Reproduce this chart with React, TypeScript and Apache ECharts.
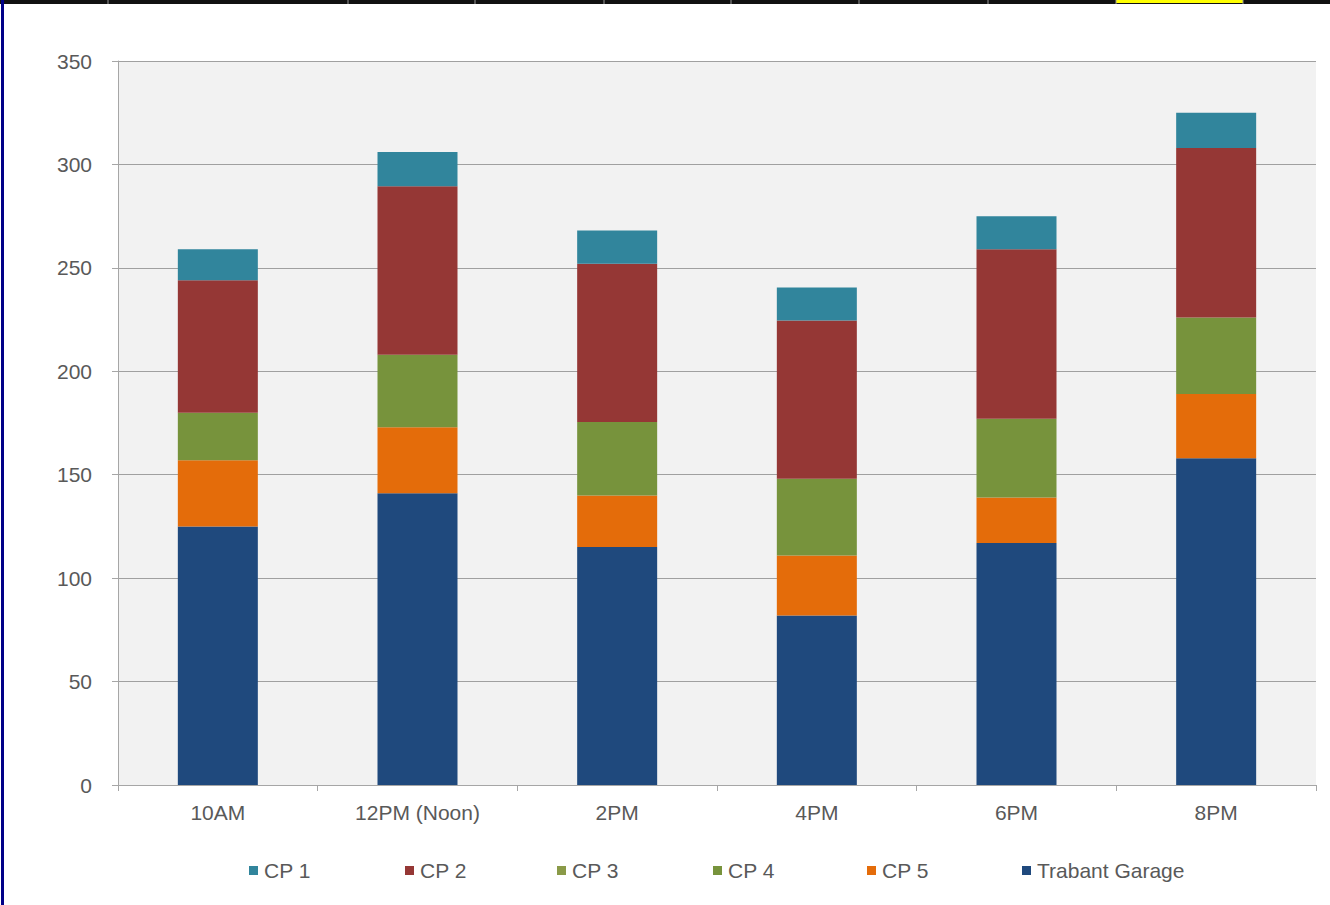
import React, { useEffect, useRef } from "react";
import * as echarts from "echarts";

const categories = ["10AM", "12PM (Noon)", "2PM", "4PM", "6PM", "8PM"];
const trabantGarage = [125, 141, 115, 82, 117, 158];
const cp5 = [32, 32, 25, 29, 22, 31];
const cp4 = [23, 35, 35.5, 37, 38, 37];
const cp3 = [0, 0, 0, 0, 0, 0];
const cp2 = [64, 81.5, 76.5, 76.5, 82, 82];
const cp1 = [15, 16.5, 16, 16, 16, 17];
const legendOrder = ["CP 1", "CP 2", "CP 3", "CP 4", "CP 5", "Trabant Garage"];
const legendLefts = [249, 405, 557, 713, 867, 1022];
const frameCellEdges = [108, 348, 475, 604, 731, 859, 988, 1116, 1243];

const FONT = "'Liberation Sans', Arial, sans-serif";

export default function App() {
  const ref = useRef<HTMLDivElement>(null);
  useEffect(() => {
    if (!ref.current) return;
    const chart = echarts.init(ref.current, null, { renderer: "svg" });
    const mk = (name: string, data: number[], color: string) => ({
      name,
      type: "bar",
      stack: "total",
      data,
      barWidth: 80,
      itemStyle: { color },
    });
    const graphics: any[] = [
      { type: "rect", shape: { x: 0, y: 0, width: 1330, height: 4 }, style: { fill: "#111" }, z: 10 },
      { type: "rect", shape: { x: 1116, y: 0, width: 127, height: 3 }, style: { fill: "#ffff00" }, z: 11 },
      { type: "rect", shape: { x: 1, y: 0, width: 3, height: 905 }, style: { fill: "#000088" }, z: 10 },
    ];
    frameCellEdges.forEach((x) => {
      graphics.push({
        type: "line",
        shape: { x1: x, y1: 0, x2: x, y2: 4 },
        style: { stroke: "#999", lineWidth: 1 },
        z: 12,
      });
    });
    const legends = legendOrder.map((name, i) => ({
      data: [name],
      left: legendLefts[i],
      top: 860,
      padding: 0,
      icon: "rect",
      itemWidth: 9,
      itemHeight: 9,
      itemGap: 5,
      textStyle: { fontSize: 21, color: "#595959", fontFamily: FONT, padding: [0, 0, 0, 1] },
    }));
    chart.setOption({
      animation: false,
      backgroundColor: "#ffffff",
      textStyle: { fontFamily: FONT },
      grid: {
        left: 118,
        right: 14,
        top: 61,
        bottom: 120,
        show: true,
        backgroundColor: "#f2f2f2",
        borderWidth: 0,
      },
      legend: legends,
      xAxis: {
        type: "category",
        data: categories,
        axisLine: { lineStyle: { color: "#a6a6a6", width: 1 } },
        axisTick: { show: true, length: 6, lineStyle: { color: "#a6a6a6" } },
        axisLabel: { fontSize: 21, color: "#595959", margin: 17, fontFamily: FONT },
      },
      yAxis: {
        type: "value",
        min: 0,
        max: 350,
        interval: 50,
        axisLine: { show: true, lineStyle: { color: "#a6a6a6", width: 1 } },
        axisTick: { show: true, length: 6, lineStyle: { color: "#a6a6a6" } },
        axisLabel: { fontSize: 21, color: "#595959", margin: 26, fontFamily: FONT },
        splitLine: { show: true, lineStyle: { color: "#a0a0a0", width: 1 } },
      },
      series: [
        mk("Trabant Garage", trabantGarage, "#1f497d"),
        mk("CP 5", cp5, "#e46c0a"),
        mk("CP 4", cp4, "#77933c"),
        mk("CP 3", cp3, "#8a9a48"),
        mk("CP 2", cp2, "#953735"),
        mk("CP 1", cp1, "#31859c"),
      ],
      graphic: graphics,
    });
    return () => chart.dispose();
  }, []);
  return (
    <div
      ref={ref}
      style={{ position: "absolute", left: 0, top: 0, width: 1330, height: 905 }}
    />
  );
}
